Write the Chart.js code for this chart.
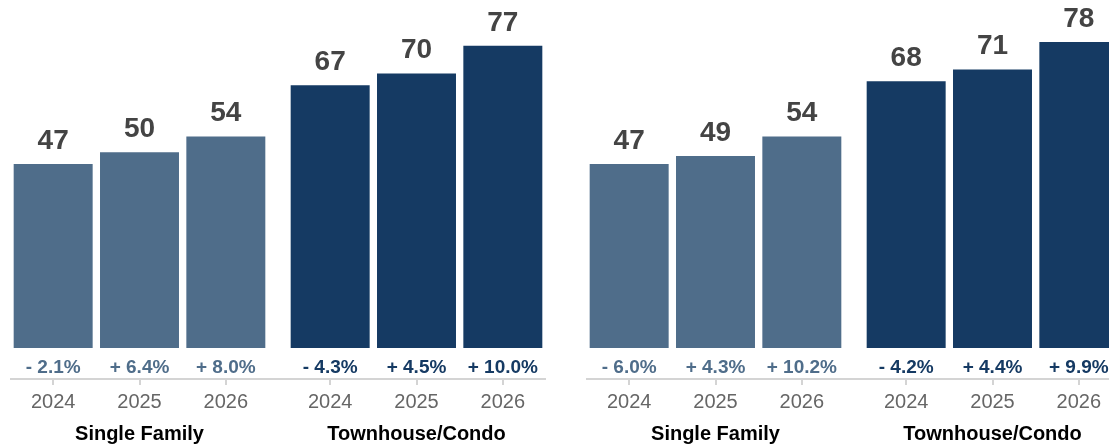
<!DOCTYPE html>
<html lang="en">
<head>
<meta charset="UTF-8">
<title>Days on Market</title>
<script src="https://cdn.jsdelivr.net/npm/chart.js"></script>
<style>
  html, body { margin: 0; padding: 0; background: #fff; overflow: hidden; }
  #wrap { position: relative; width: 1109px; height: 446px; overflow: hidden; }
  #wrap canvas { position: absolute; top: 0; }
</style>
</head>
<body>
<div id="wrap">
  <canvas id="c1" width="278" height="446" style="left:0px"></canvas>
  <canvas id="c2" width="278" height="446" style="left:278px"></canvas>
  <canvas id="c3" width="278" height="446" style="left:576px"></canvas>
  <canvas id="c4" width="278" height="446" style="left:854px"></canvas>
</div>
<script>
  const years = ['2024', '2025', '2026'];

  // left panel
  const sfLeft = [47, 50, 54];
  const sfLeftChg = [-2.1, 6.4, 8.0];
  const tcLeft = [67, 70, 77];
  const tcLeftChg = [-4.3, 4.5, 10.0];

  // right panel
  const sfRight = [47, 49, 54];
  const sfRightChg = [-6.0, 4.3, 10.2];
  const tcRight = [68, 71, 78];
  const tcRightChg = [-4.2, 4.4, 9.9];

  const SF_COLOR = '#4f6d8a';
  const TC_COLOR = '#153a63';
  const FONT = '"Liberation Sans", Arial, Helvetica, sans-serif';

  function fmtPct(v) {
    return (v < 0 ? '- ' : '+ ') + Math.abs(v).toFixed(1) + '%';
  }

  const barText = {
    id: 'barText',
    afterDatasetsDraw(chart, args, opts) {
      const { ctx, chartArea } = chart;
      const meta = chart.getDatasetMeta(0);
      const values = chart.data.datasets[0].data;
      const zeroY = chart.scales.y.getPixelForValue(0);
      ctx.save();
      ctx.textAlign = 'center';
      ctx.textBaseline = 'alphabetic';
      meta.data.forEach((bar, i) => {
        ctx.font = 'bold 28px ' + FONT;
        ctx.fillStyle = '#444444';
        ctx.fillText(values[i], bar.x, bar.y - 14);
        ctx.font = 'bold 19px ' + FONT;
        ctx.fillStyle = opts.color;
        ctx.fillText(fmtPct(opts.changes[i]), bar.x, zeroY + 25);
      });
      // baseline, joined to the neighbouring group
      const y = chartArea.bottom;
      const x0 = opts.edge === 'left' ? 0 : chartArea.left;
      const x1 = opts.edge === 'right' ? chart.width : chartArea.right;
      ctx.strokeStyle = '#d4d4d4';
      ctx.lineWidth = 2;
      ctx.beginPath();
      ctx.moveTo(x0, y);
      ctx.lineTo(x1, y);
      ctx.stroke();
      ctx.restore();
    }
  };

  function makeChart(id, title, values, changes, color, edge, pad) {
    return new Chart(document.getElementById(id), {
      type: 'bar',
      data: {
        labels: years,
        datasets: [{
          data: values,
          backgroundColor: color,
          borderColor: 'rgba(255,255,255,0.4)',
          borderWidth: 1,
          barPercentage: 0.938,
          categoryPercentage: 1
        }]
      },
      options: {
        responsive: false,
        animation: false,
        events: [],
        layout: { padding: { left: pad[0], right: pad[1], top: 0, bottom: 0 } },
        plugins: {
          legend: { display: false },
          tooltip: { enabled: false },
          barText: { color: color, changes: changes, edge: edge }
        },
        scales: {
          x: {
            grid: {
              offset: false,
              drawOnChartArea: false,
              drawTicks: true,
              tickLength: 6,
              color: '#d4d4d4',
              lineWidth: 2
            },
            border: { display: false },
            ticks: {
              padding: 5,
              color: '#666666',
              font: { family: FONT, size: 20 }
            },
            title: {
              display: true,
              text: title,
              color: '#000000',
              font: { family: FONT, size: 20, weight: 'bold' },
              padding: { top: 3, bottom: 0 }
            }
          },
          y: {
            display: false,
            min: -7.9,
            max: 88.4
          }
        }
      },
      plugins: [barText]
    });
  }

  makeChart('c1', 'Single Family', sfLeft, sfLeftChg, SF_COLOR, 'right', [10, 9]);
  makeChart('c2', 'Townhouse/Condo', tcLeft, tcLeftChg, TC_COLOR, 'left', [9, 10]);
  makeChart('c3', 'Single Family', sfRight, sfRightChg, SF_COLOR, 'right', [10, 9]);
  makeChart('c4', 'Townhouse/Condo', tcRight, tcRightChg, TC_COLOR, 'left', [9, 10]);
</script>
</body>
</html>
